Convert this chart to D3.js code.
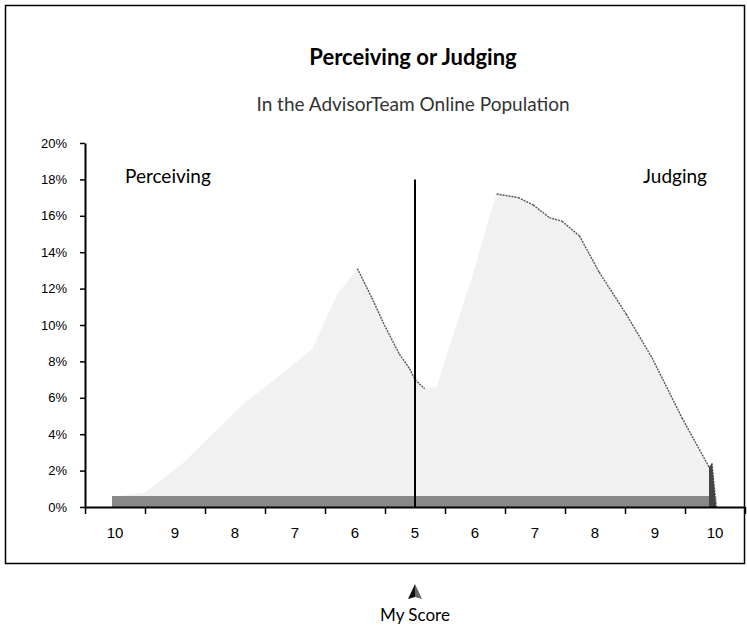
<!DOCTYPE html>
<html>
<head>
<meta charset="utf-8">
<script src="https://cdn.jsdelivr.net/npm/d3@7"></script>
<style>
  body { margin: 0; background: #fff; }
  svg { display: block; }
</style>
</head>
<body>
<div id="chart"></div>
<script>
// score categories along the bottom axis (Perceiving 10..5..10 Judging)
const categories = ["10", "9", "8", "7", "6", "5", "6", "7", "8", "9", "10"]
const yTicks = [0, 2, 4, 6, 8, 10, 12, 14, 16, 18, 20]

// distribution outline: position from the centre "5" in score steps
// (negative = Perceiving side), and share of population in %
const position = [-5.05, -4.95, -4.5, -3.87, -2.85, -2.34, -1.71, -1.49, -1.29, -0.96, -0.72, -0.51, -0.26, -0.09, 0, 0.16, 0.36, 0.57, 0.94, 1.21, 1.36, 1.72, 1.97, 2.24, 2.45, 2.74, 3.07, 3.52, 3.95, 4.45, 4.9, 4.95, 5.02]
const percent  = [0, 0.6, 0.8, 2.4, 5.7, 7.0, 8.7, 10.3, 11.7, 13.1, 11.5, 10.0, 8.4, 7.6, 7.0, 6.5, 6.6, 8.8, 12.5, 15.6, 17.2, 17.0, 16.6, 15.9, 15.7, 14.9, 12.9, 10.6, 8.2, 4.9, 2.2, 2.4, 0]
const floorPercent = 0.6
const dividerTop = 18
const myScore = 0

const W = 747, H = 631

const svg = d3.select("#chart").append("svg")
  .attr("width", W)
  .attr("height", H)

// outer frame
svg.append("rect")
  .attr("x", 5.5).attr("y", 5.5)
  .attr("width", 739).attr("height", 558)
  .attr("fill", "none")
  .attr("stroke", "#000")
  .attr("stroke-width", 1.5)

const x = d3.scaleLinear().domain([-5.5, 5.5]).range([85, 745])
const xBand = d3.scaleBand().domain(d3.range(categories.length)).range([85, 745])
const y = d3.scaleLinear().domain([0, 20]).range([507, 143])

const points = position.map((p, i) => ({ p: p, v: percent[i] }))

// main area
const area = d3.area()
  .x(d => x(d.p))
  .y0(y(0))
  .y1(d => y(d.v))

svg.append("path")
  .datum(points)
  .attr("d", area)
  .attr("fill", "#f1f1f1")

// darker dotted edges where the outline falls away
const edgeLine = d3.line().x(d => x(d.p)).y(d => y(d.v))
points.forEach((d, i) => {
  if (i === 0) return
  const prev = points[i - 1]
  if (d.v < prev.v && prev.p > -1.5) {
    svg.append("path")
      .datum([prev, d])
      .attr("d", edgeLine)
      .attr("fill", "none")
      .attr("stroke", "#555")
      .attr("stroke-width", 1.4)
      .attr("stroke-dasharray", "2,1")
  }
})

// dense floor band along the base
svg.append("path")
  .datum([{ p: position[0], v: floorPercent }, { p: position[position.length - 1], v: floorPercent }])
  .attr("d", area)
  .attr("fill", "#888")

// the steep drop at the Judging end
const last = points.length - 1
svg.append("path")
  .datum(points.slice(last - 2))
  .attr("d", area)
  .attr("fill", "#444")

// divider at score 5
svg.append("line")
  .attr("x1", x(myScore)).attr("x2", x(myScore))
  .attr("y1", y(0)).attr("y2", y(dividerTop))
  .attr("stroke", "#000")
  .attr("stroke-width", 2)

// y axis
const yAxis = svg.append("g")
  .attr("transform", `translate(${x(-5.5)},0)`)
  .call(d3.axisLeft(y).tickValues(yTicks).tickFormat(d => d + "%").tickSize(5).tickSizeOuter(0).tickPadding(13))
yAxis.select(".domain").attr("stroke-width", 2)
yAxis.selectAll("line").attr("stroke-width", 1.5)
yAxis.selectAll("text")
  .attr("font-family", "Liberation Sans, Arial, sans-serif")
  .attr("font-size", 13)
  .attr("fill", "#000")

// x axis: ticks on category edges
const xTicks = d3.range(categories.length + 1).map(i => i - 5.5)
const xAxis = svg.append("g")
  .attr("transform", `translate(0,${y(0)})`)
  .call(d3.axisBottom(x).tickValues(xTicks).tickFormat("").tickSize(7).tickSizeOuter(0))
xAxis.select(".domain").attr("stroke-width", 2)
xAxis.selectAll("line").attr("stroke-width", 1.5)

// x labels centred in each category
const xLabels = svg.append("g")
  .attr("transform", `translate(0,${y(0)})`)
  .call(d3.axisBottom(xBand).tickFormat(i => categories[i]).tickSize(0).tickPadding(20))
xLabels.select(".domain").remove()
xLabels.selectAll("text")
  .attr("font-family", "Liberation Sans, Arial, sans-serif")
  .attr("font-size", 15)
  .attr("fill", "#000")

// titles
svg.append("text")
  .attr("x", 413).attr("y", 65)
  .attr("text-anchor", "middle")
  .attr("font-family", "Lato, sans-serif")
  .attr("font-weight", "bold")
  .attr("font-size", 22)
  .text("Perceiving or Judging")

svg.append("text")
  .attr("x", 413).attr("y", 111)
  .attr("text-anchor", "middle")
  .attr("font-family", "Lato, sans-serif")
  .attr("font-size", 19)
  .attr("fill", "#333")
  .text("In the AdvisorTeam Online Population")

svg.append("text")
  .attr("x", 125).attr("y", 183)
  .attr("font-family", "Lato, sans-serif")
  .attr("font-size", 19)
  .text("Perceiving")

svg.append("text")
  .attr("x", 707).attr("y", 183)
  .attr("text-anchor", "end")
  .attr("font-family", "Lato, sans-serif")
  .attr("font-size", 19)
  .text("Judging")

// my score marker
const mx = x(myScore)
svg.append("path")
  .attr("d", `M${mx},584 L${mx - 7},599 L${mx},597 Z`)
  .attr("fill", "#111")
svg.append("path")
  .attr("d", `M${mx},584 L${mx + 7},599 L${mx},597 Z`)
  .attr("fill", "#666")

svg.append("text")
  .attr("x", mx).attr("y", 621)
  .attr("text-anchor", "middle")
  .attr("font-family", "Lato, sans-serif")
  .attr("font-size", 17)
  .text("My Score")
</script>
</body>
</html>
